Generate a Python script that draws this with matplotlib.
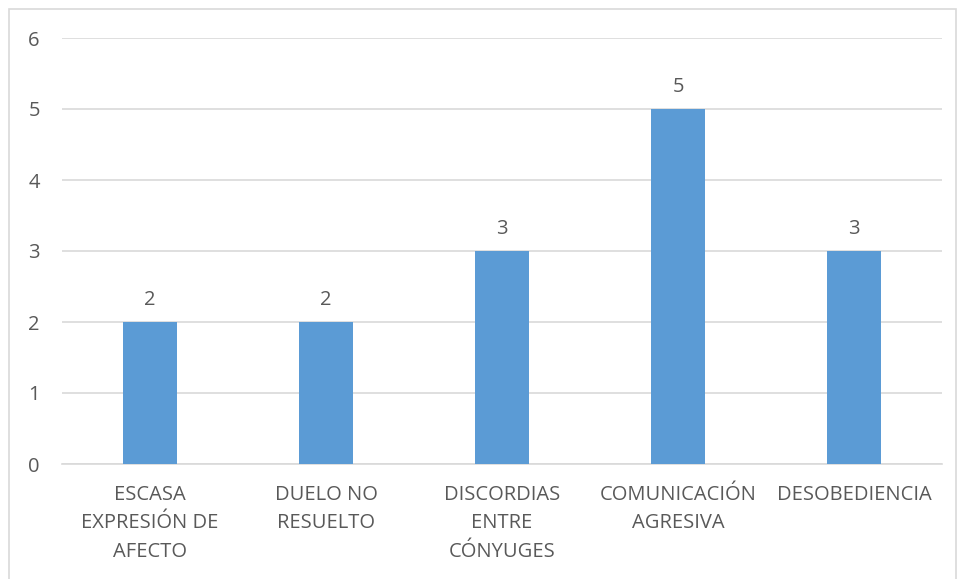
import matplotlib.pyplot as plt
import matplotlib.patches as patches

categorias = ["ESCASA\nEXPRESIÓN DE\nAFECTO", "DUELO NO\nRESUELTO",
              "DISCORDIAS\nENTRE\nCÓNYUGES", "COMUNICACIÓN\nAGRESIVA", "DESOBEDIENCIA"]
valores = [2, 2, 3, 5, 3]
yticks = [0, 1, 2, 3, 4, 5, 6]

plt.rcParams['font.family'] = ['Open Sans', 'DejaVu Sans']
gris = '#595959'
fs = 14.5

fig = plt.figure(figsize=(9.59, 5.79), dpi=100)
ax = fig.add_axes([62/959, 1 - 464/579, 880/959, (464-38)/579])

x = range(len(categorias))
barras = ax.bar(x, valores, width=0.31, color='#5B9BD5', zorder=3)
for b, v in zip(barras, valores):
    ax.text(b.get_x() + b.get_width()/2, v + 0.17, str(v), ha='center', va='bottom',
            fontsize=fs, color=gris)

ax.set_xlim(-0.5, 4.5)
ax.set_ylim(0, 6)
ax.set_yticks(yticks)
ax.set_xticks(list(x))
ax.set_xticklabels(categorias, fontsize=fs, color=gris, linespacing=1.56)
ax.tick_params(axis='y', labelsize=fs, labelcolor=gris, length=0, pad=16)
ax.tick_params(axis='x', length=0, pad=15)
ax.grid(axis='y', color='#d9d9d9', linewidth=1.2, zorder=0)
for s in ['top', 'right', 'left']:
    ax.spines[s].set_visible(False)
ax.spines['bottom'].set_color('#d9d9d9')
ax.spines['bottom'].set_linewidth(1.2)

# marco del grafico
fig.patches.append(patches.Rectangle((9/959, -0.01), 947/959, 1 - 9/579 + 0.01,
                                     transform=fig.transFigure, fill=False,
                                     edgecolor='#d9d9d9', linewidth=1.2))

fig.savefig('out.png', dpi=100)
